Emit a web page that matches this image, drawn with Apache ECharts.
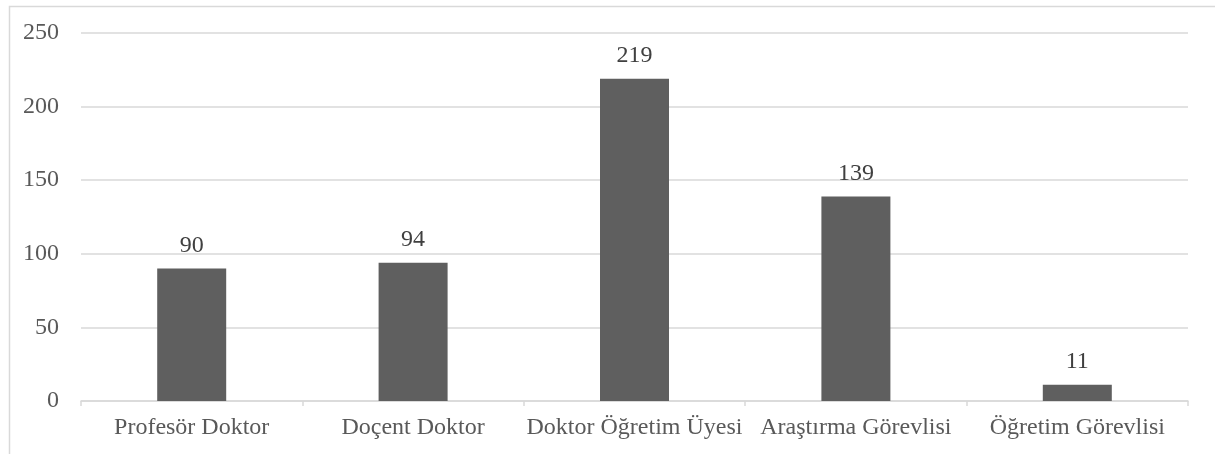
<!DOCTYPE html>
<html>
<head>
<meta charset="utf-8">
<script src="https://cdn.jsdelivr.net/npm/echarts@6/dist/echarts.min.js"></script>
<style>
  html, body { margin: 0; padding: 0; background: #fff; }
  #chart { width: 1215px; height: 454px; }
</style>
</head>
<body>
<div id="chart"></div>
<script>
// kategoriler ve değerler
const categories = ['Profesör Doktor', 'Doçent Doktor', 'Doktor Öğretim Üyesi', 'Araştırma Görevlisi', 'Öğretim Görevlisi'];
const values = [90, 94, 219, 139, 11];

const font = '"Liberation Serif", "Times New Roman", serif';

const chart = echarts.init(document.getElementById('chart'));

chart.setOption({
  animation: false,
  graphic: [{
    type: 'rect',
    left: 7, top: 4,
    shape: { width: 1220, height: 460 },
    style: { fill: 'none', stroke: '#d9d9d9', lineWidth: 1.5 },
    silent: true
  }],
  grid: { left: 81, right: 27, top: 33, bottom: 53 },
  xAxis: {
    type: 'category',
    data: categories,
    axisLine: { lineStyle: { color: '#d9d9d9', width: 1.5 } },
    axisTick: { show: true, length: 5, lineStyle: { color: '#d9d9d9', width: 1.5 } },
    axisLabel: { interval: 0, color: '#595959', fontFamily: font, fontSize: 24, margin: 15 }
  },
  yAxis: {
    type: 'value',
    min: 0,
    max: 250,
    interval: 50,
    axisLine: { show: false },
    axisTick: { show: false },
    axisLabel: { color: '#595959', fontFamily: font, fontSize: 24, margin: 22 },
    splitLine: { lineStyle: { color: '#d9d9d9', width: 1.5 } }
  },
  series: [{
    type: 'bar',
    data: values,
    barWidth: 69,
    itemStyle: { color: '#5f5f5f' },
    label: {
      show: true,
      position: 'top',
      distance: 11,
      color: '#404040',
      fontFamily: font,
      fontSize: 24
    }
  }]
});
</script>
</body>
</html>
